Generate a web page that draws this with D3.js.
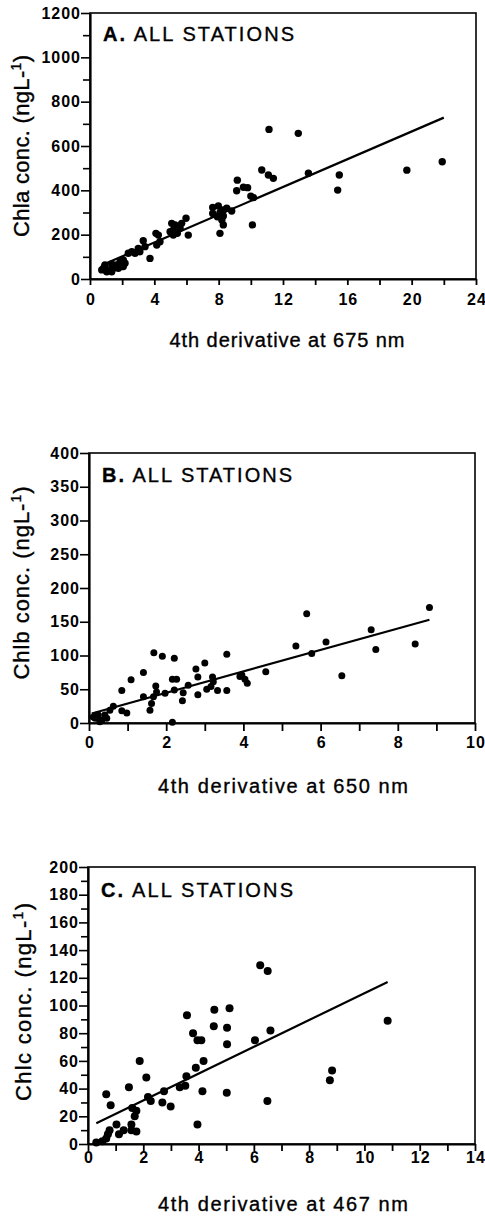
<!DOCTYPE html>
<html>
<head>
<meta charset="utf-8">
<script src="https://cdn.jsdelivr.net/npm/d3@7"></script>
<style>
  body { margin: 0; background: #fff; }
  svg { display: block; }
</style>
</head>
<body>
<svg id="chart" width="485" height="1217"></svg>
<script>
// ---- DATA ----
// A: Chla vs 4th derivative at 675 nm
const chlaX = [11.13, 12.95, 21.9, 19.7, 15.5, 15.4, 13.58, 10.68, 11.09, 11.4, 9.16, 9.12, 9.54, 9.8, 10.0, 10.16, 10.1,
  8.08, 8.29, 7.63, 7.63, 7.98, 8.08, 8.29, 8.5, 8.81, 7.92, 8.2, 8.29, 5.97, 6.11, 5.7, 5.6, 5.29, 5.08, 5.18, 5.18,
  5.43, 4.98, 4.25, 4.1, 4.35, 4.15, 3.73, 3.31, 3.42, 3.0, 2.8, 2.6, 2.38, 3.1, 2.07, 2.18, 1.87, 1.66, 2.07, 1.76,
  1.97, 1.35, 1.14, 0.83, 0.73, 1.04, 1.45, 0.93, 1.35];
const chlaY = [675, 657, 529, 491, 469, 401, 477, 492, 469, 454, 446, 398, 414, 412, 374, 367, 244,
  206, 244, 323, 296, 329, 299, 311, 319, 307, 281, 266, 284, 274, 198, 251, 229, 244, 251, 221, 198,
  206, 213, 198, 206, 168, 153, 93, 173, 146, 138, 116, 123, 116, 123, 86, 71, 78, 63, 56, 48,
  56, 33, 41, 48, 41, 33, 48, 63, 68];
const chlaFitX = [0.72, 22.0];
const chlaFitY = [62, 728];

// B: Chlb vs 4th derivative at 650 nm
const chlbX = [8.82, 5.64, 7.31, 7.43, 8.45, 5.36, 6.14, 5.77, 6.55, 4.58, 3.57, 3.0, 2.77, 2.82, 1.68, 1.9, 2.21,
  1.41, 1.09, 0.85, 2.16, 2.27, 3.91, 3.96, 4.04, 4.1, 3.2, 3.22, 3.16, 3.57, 3.33, 3.05, 2.82, 2.57, 2.44, 2.42,
  2.21, 1.97, 1.73, 1.75, 1.67, 1.62, 1.58, 1.41, 0.98, 0.85, 0.63, 0.54, 0.41, 0.24, 0.16, 0.46, 0.33, 2.16,
  0.2, 0.28, 0.11];
const chlbY = [171, 162, 138, 109, 117, 114, 120, 103, 70, 76, 102, 89, 80, 68, 104, 99, 96,
  75, 64, 48, 65, 65, 69, 71, 65, 59, 68, 61, 54, 48, 48, 50, 42, 56, 45, 33,
  49, 44, 55, 46, 39, 29, 19, 39, 15, 18, 25, 19, 12, 12, 7, 7, 4, 1,
  12, 2, 9];
const chlbFitX = [0.07, 8.82];
const chlbFitY = [14, 153];

// C: Chlc vs 4th derivative at 467 nm
const chlcX = [6.23, 6.5, 10.84, 6.6, 6.04, 5.12, 5.03, 5.03, 4.57, 4.55, 3.58, 3.8, 3.96, 4.1, 4.18, 3.9, 3.56,
  3.52, 3.32, 4.14, 5.02, 6.49, 3.96, 8.75, 8.83, 1.87, 2.11, 1.48, 0.66, 0.82, 2.17, 2.27, 2.75, 2.69, 2.99,
  1.6, 1.75, 1.69, 1.57, 1.75, 1.57, 1.03, 1.12, 1.29, 0.78, 0.72, 0.66, 0.52, 0.30];
const chlcY = [129, 125, 89, 82, 75, 98, 84, 72, 97, 85, 93, 80, 75, 75, 60, 55, 49,
  42, 41, 38, 37, 31, 14, 46, 53, 60, 48, 41, 36, 28, 34, 31, 38, 30, 27,
  26, 24, 20, 14, 9, 10, 14, 7, 10, 10, 7, 4, 2, 1];
const chlcFitX = [0.3, 10.84];
const chlcFitY = [15, 117];

// tick values
const aXTicks = [0, 4, 8, 12, 16, 20, 24];
const aXMinor = [2, 6, 10, 14, 18, 22];
const aYTicks = [0, 200, 400, 600, 800, 1000, 1200];
const aYMinor = [100, 300, 500, 700, 900, 1100];
const bXTicks = [0, 2, 4, 6, 8, 10];
const bXMinor = [1, 3, 5, 7, 9];
const bYTicks = [0, 50, 100, 150, 200, 250, 300, 350, 400];
const cXTicks = [0, 2, 4, 6, 8, 10, 12, 14];
const cXMinor = [1, 3, 5, 7, 9, 11, 13];
const cYTicks = [0, 20, 40, 60, 80, 100, 120, 140, 160, 180, 200];
const cYMinor = [10, 30, 50, 70, 90, 110, 130, 150, 170, 190];

const FONT = "'Liberation Sans', Arial, Helvetica, sans-serif";
const svg = d3.select("#chart");

function drawPanel(p) {
    const x = d3.scaleLinear().domain(p.xDomain).range([p.left, p.right]);
    const y = d3.scaleLinear().domain(p.yDomain).range([p.bottom, p.top]);

    // frame
    svg.append("rect")
        .attr("x", p.left).attr("y", p.top)
        .attr("width", p.right - p.left).attr("height", p.bottom - p.top)
        .attr("fill", "none").attr("stroke", "#000").attr("stroke-width", 1.6);

    // minor ticks (no labels)
    if (p.xMinor.length) {
        svg.append("g")
            .attr("transform", `translate(0,${p.bottom})`)
            .call(d3.axisBottom(x).tickValues(p.xMinor).tickSize(p.xTickLen).tickFormat(""))
            .call(g => g.select(".domain").remove())
            .selectAll("line").attr("stroke-width", 1.8);
    }
    if (p.yMinor.length) {
        svg.append("g")
            .attr("transform", `translate(${p.left},0)`)
            .call(d3.axisLeft(y).tickValues(p.yMinor).tickSize(7).tickFormat(""))
            .call(g => g.select(".domain").remove())
            .selectAll("line").attr("stroke-width", 1.6);
    }

    // major axes
    const gx = svg.append("g")
        .attr("transform", `translate(0,${p.bottom})`)
        .call(d3.axisBottom(x).tickValues(p.xTicks).tickFormat(d3.format("d"))
            .tickSize(p.xTickLen).tickSizeOuter(0).tickPadding(p.xPad));
    gx.select(".domain").attr("stroke-width", 2.2);
    gx.selectAll("line").attr("stroke-width", 1.8);
    gx.selectAll("text")
        .attr("font-family", FONT).attr("font-size", 16).attr("font-weight", "bold")
        .attr("letter-spacing", 1).attr("dx", 0.5).attr("fill", "#000");

    const gy = svg.append("g")
        .attr("transform", `translate(${p.left},0)`)
        .call(d3.axisLeft(y).tickValues(p.yTicks).tickFormat(d3.format("d"))
            .tickSize(9).tickSizeOuter(0).tickPadding(1));
    gy.select(".domain").attr("stroke-width", 2.2);
    gy.selectAll("line").attr("stroke-width", 1.6);
    gy.selectAll("text")
        .attr("font-family", FONT).attr("font-size", 16).attr("font-weight", "bold")
        .attr("letter-spacing", 1).attr("dx", 1).attr("fill", "#000");
    svg.selectAll(".domain").attr("stroke", "#000");

    // fit line
    svg.append("line")
        .attr("x1", x(p.fitX[0])).attr("y1", y(p.fitY[0]))
        .attr("x2", x(p.fitX[1])).attr("y2", y(p.fitY[1]))
        .attr("stroke", "#000").attr("stroke-width", 2.2);

    // points
    svg.append("g").selectAll("circle")
        .data(p.xs.map((v, i) => [v, p.ys[i]]))
        .enter().append("circle")
        .attr("cx", d => x(d[0]))
        .attr("cy", d => y(d[1]))
        .attr("r", p.r)
        .attr("fill", "#000");

    // panel title
    const t = svg.append("text")
        .attr("x", p.left + 13).attr("y", p.titleY)
        .attr("font-family", FONT).attr("font-size", 20)
        .attr("stroke", "#000").attr("stroke-width", 0.35)
        .attr("textLength", p.titleLen).attr("lengthAdjust", "spacing");
    t.append("tspan").attr("font-weight", "bold").text(p.letter + ".");
    t.append("tspan").text(" ALL STATIONS");

    // x axis title
    svg.append("text")
        .attr("x", p.xLabelX).attr("y", p.xLabelY)
        .attr("text-anchor", "middle")
        .attr("font-family", FONT).attr("font-size", 20)
        .attr("stroke", "#000").attr("stroke-width", 0.35)
        .attr("textLength", p.xLabelLen).attr("lengthAdjust", "spacing")
        .text(p.xLabel);

    // y axis title
    const yt = svg.append("text")
        .attr("transform", `translate(${p.yLabelX},${p.yLabelY}) rotate(-90)`)
        .attr("text-anchor", "middle")
        .attr("font-family", FONT).attr("font-size", 22)
        .attr("stroke", "#000").attr("stroke-width", 0.35)
        .attr("textLength", p.yLabelLen).attr("lengthAdjust", "spacing");
    yt.append("tspan").text(p.yLabel + " (ngL-");
    yt.append("tspan").attr("font-size", 14).attr("dy", -8).text("1");
    yt.append("tspan").attr("dy", 8).text(")");
}

const panels = [
    { letter: "A", xs: chlaX, ys: chlaY, fitX: chlaFitX, fitY: chlaFitY,
      xDomain: [0, 24], yDomain: [0, 1200], xTicks: aXTicks, xMinor: aXMinor, yTicks: aYTicks, yMinor: aYMinor,
      left: 90, right: 476, top: 13, bottom: 279, r: 3.7, xTickLen: 6, xPad: 9,
      titleY: 41, titleLen: 191, xLabel: "4th derivative at 675 nm", xLabelX: 287, xLabelY: 347, xLabelLen: 235,
      yLabel: "Chla conc.", yLabelX: 28.5, yLabelY: 146, yLabelLen: 182 },
    { letter: "B", xs: chlbX, ys: chlbY, fitX: chlbFitX, fitY: chlbFitY,
      xDomain: [0, 10], yDomain: [0, 400], xTicks: bXTicks, xMinor: bXMinor, yTicks: bYTicks, yMinor: [],
      left: 89, right: 475, top: 453, bottom: 723, r: 3.5, xTickLen: 8, xPad: 6,
      titleY: 482, titleLen: 190, xLabel: "4th derivative at 650 nm", xLabelX: 283, xLabelY: 793, xLabelLen: 250,
      yLabel: "Chlb conc.", yLabelX: 29, yLabelY: 583, yLabelLen: 193 },
    { letter: "C", xs: chlcX, ys: chlcY, fitX: chlcFitX, fitY: chlcFitY,
      xDomain: [0, 14], yDomain: [0, 200], xTicks: cXTicks, xMinor: cXMinor, yTicks: cYTicks, yMinor: cYMinor,
      left: 88, right: 475, top: 867, bottom: 1144, r: 4, xTickLen: 7, xPad: 1,
      titleY: 897, titleLen: 192, xLabel: "4th derivative at 467 nm", xLabelX: 283, xLabelY: 1211, xLabelLen: 250,
      yLabel: "Chlc conc.", yLabelX: 31, yLabelY: 1002, yLabelLen: 198 }
];

panels.forEach(drawPanel);
</script>
</body>
</html>
